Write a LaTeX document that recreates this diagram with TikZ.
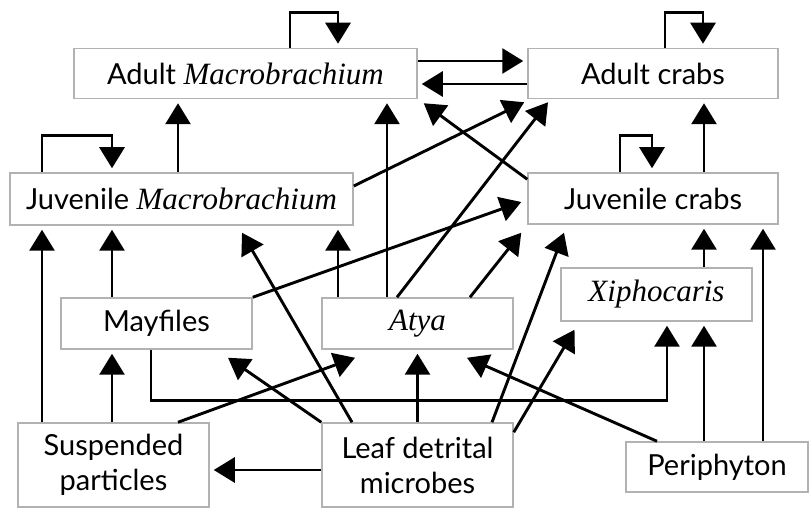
\documentclass[tikz,border=0pt]{standalone}
\usepackage{fontspec}
\setmainfont{Lato}
\newfontfamily\genusfont{Liberation Serif}
\newcommand{\genus}[1]{{\genusfont\itshape\fontsize{31}{35}\selectfont #1}}
\usetikzlibrary{arrows.meta}

\begin{document}
\begin{tikzpicture}[x=1pt, y=-1pt, line width=2.9pt,
  main/.style = {draw=gray!60, line width=1.5pt, inner sep=0pt, align=center,
    font=\fontsize{29}{35}\selectfont},
  arr/.style = {-{Triangle[length=21pt,width=25pt]}, shorten >=4pt},
  tip/.style = {shorten >=0pt}]
\useasboundingbox (0,0) rectangle (811,510);
\node[main, minimum width=343pt, minimum height=50pt] (am) at (245.5,73.5) {Adult \genus{Macrobrachium}};
\node[main, minimum width=250pt, minimum height=50pt] (ac) at (653,73.5) {Adult crabs};
\node[main, minimum width=343pt, minimum height=52pt] (jm) at (181.5,199) {Juvenile \genus{Macrobrachium}};
\node[main, minimum width=250pt, minimum height=51pt] (jc) at (653,198.5) {Juvenile crabs};
\node[main, minimum width=191pt, minimum height=51pt] (may) at (156.5,323.5) {Mayfiles};
\node[main, minimum width=191pt, minimum height=51pt] (atya) at (417.5,323.5) {\genus{Atya}};
\node[main, minimum width=191pt, minimum height=53pt] (xip) at (656.5,294.5) {\genus{Xiphocaris}};
\node[main, minimum width=191pt, minimum height=84pt] (sus) at (113.5,465) {Suspended\\particles};
\node[main, minimum width=191pt, minimum height=84pt] (leaf) at (417.5,465) {Leaf detrital\\microbes};
\node[main, minimum width=182pt, minimum height=50pt] (per) at (717,467) {Periphyton};

\draw[arr] ([xshift=44.5pt]am.north) -- ++(0,-35) -| ([xshift=92.5pt]am.north);
\draw[arr] ([xshift=12pt]ac.north) -- ++(0,-35) -| ([xshift=50pt]ac.north);
\draw[arr] ([xshift=-139.5pt]jm.north) -- ++(0,-37) -| ([xshift=-69.5pt]jm.north);
\draw[arr] ([xshift=-33pt]jc.north) -- ++(0,-37) -| ([xshift=-1pt]jc.north);

\draw[arr] ([yshift=12.5pt]am.east) -- ([yshift=12.5pt]ac.west);
\draw[arr] ([yshift=-10.5pt]ac.west) -- ([yshift=-10.5pt]am.east);

\draw[arr] ([xshift=-3.5pt]jm.north) -- ([xshift=-3.5pt]jm.north |- am.south);
\draw[arr] ([xshift=51pt]jc.north) -- ([xshift=51pt]jc.north |- ac.south);
\draw[arr] ([xshift=-30.5pt]atya.north) -- ([xshift=-30.5pt]atya.north |- am.south);
\draw[arr] ([xshift=-79.5pt]atya.north) -- ([xshift=-79.5pt]atya.north |- jm.south);
\draw[arr] (leaf.north) -- (atya.south);
\draw[arr] ([xshift=-13pt]per.north) -- ([xshift=-13pt]per.north |- xip.south);
\draw[arr] ([xshift=46pt]per.north) -- ([xshift=46pt]per.north |- jc.south);
\draw[arr] ([xshift=47.5pt]xip.north) -- ([xshift=47.5pt]xip.north |- jc.south);
\draw[arr] ([xshift=-44.5pt]may.north) -- ([xshift=-44.5pt]may.north |- jm.south);
\draw[arr] ([xshift=-1.5pt]sus.north) -- ([xshift=-1.5pt]sus.north |- may.south);
\draw[arr] ([xshift=-71.5pt]sus.north) -- ([xshift=-71.5pt]sus.north |- jm.south);
\draw[arr] ([yshift=-5pt]leaf.west) -- ([yshift=-5pt]leaf.west -| sus.east);
\draw[arr] ([xshift=-5.5pt]may.south) -- ++(0,51) -| ([xshift=10.5pt]xip.south);

\draw[arr, tip] ([xshift=-20.5pt]atya.north) -- ([shift={(-105pt,-3pt)}]ac.south);
\draw[arr, tip] ([xshift=52.5pt]atya.north) -- ([shift={(-6pt,-8pt)}]jc.south west);
\draw[arr, tip] ([yshift=13pt]jm.east) -- ([shift={(-3pt,-3pt)}]ac.south west);
\draw[arr, tip] ([yshift=-7pt]jc.north west) -- ([shift={(6pt,-4pt)}]am.south east);
\draw[arr, tip] (may.north east) -- ([shift={(-6pt,-3.5pt)}]jc.west);
\draw[arr, tip] ([xshift=-65.5pt]leaf.north) -- ([shift={(60.5pt,-7pt)}]jm.south);
\draw[arr, tip] (leaf.north west) -- ([shift={(71.5pt,-8pt)}]may.south);
\draw[arr, tip] ([xshift=64.5pt]sus.north) -- ([shift={(-62.5pt,-8pt)}]atya.south);
\draw[arr, tip] ([xshift=74.5pt]leaf.north) -- ([shift={(-89pt,-8pt)}]jc.south);
\draw[arr, tip] ([yshift=-10pt]leaf.north east) -- ([shift={(-82pt,-8pt)}]xip.south);
\draw[arr, tip] ([xshift=-60pt]per.north) -- ([shift={(49.5pt,-8pt)}]atya.south);
\end{tikzpicture}
\end{document}
